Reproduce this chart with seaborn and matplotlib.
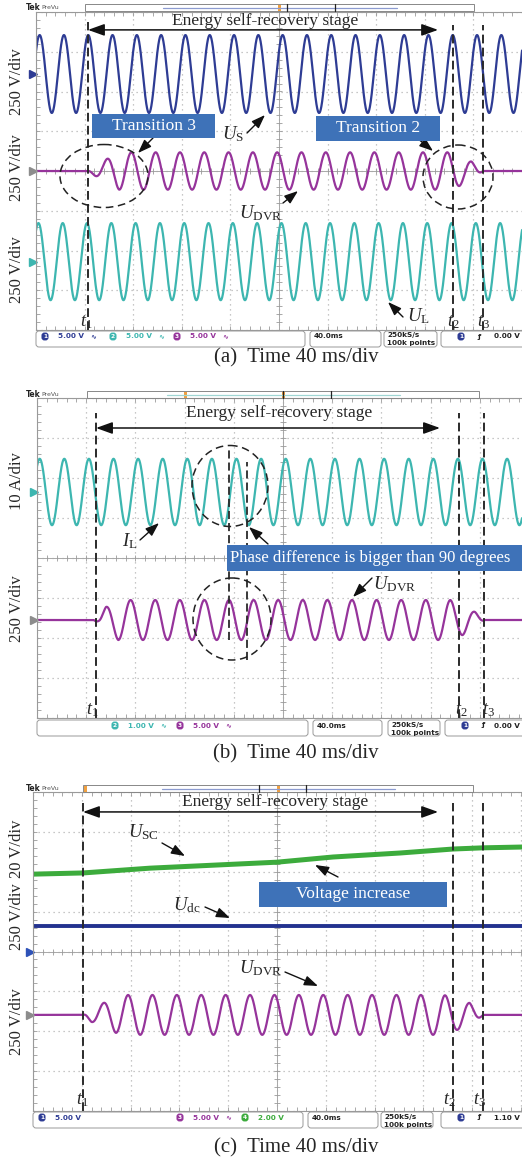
import numpy as np
import seaborn as sns
import matplotlib.pyplot as plt
import matplotlib.transforms as mtransforms
from matplotlib import patches
from matplotlib.lines import Line2D

sns.set_style("white")
plt.rcParams['font.family'] = ['Liberation Serif', 'DejaVu Sans']
plt.rcParams['mathtext.fontset'] = 'custom'
plt.rcParams['mathtext.rm'] = 'Liberation Serif'
plt.rcParams['mathtext.it'] = 'Liberation Serif:italic'

# ---- values: time in ms, levels in divisions ----
PERIOD = 20.0  # 50 Hz

# (a) U_S, U_DVR, U_L   -> [amplitude, offset, time of a peak]
TMARK_A = [42.8, 343.2, 367.9]
US_A = [0.98, 2.44, 3.0]
UL_A = [0.97, -2.28, 2.0]
UDVR_A = [0.47, 0.0, -1.5]
UDVR_A_KT = [0, 42.8, 48.5, 58.5, 68.5, 340, 348.5, 358.5, 368, 401]
UDVR_A_KG = [0, 0, 0.25, 0.65, 1, 1, 0.8, 0.5, 0, 0]

# (b) I_L, U_DVR
TMARK_B = [48.0, 343.1, 363.4]
PHASE_MARK_B = [156.1, 170.7]
IL_B = [0.83, 1.65, 2.2]
UDVR_B = [0.5, -1.55, -3.9]
UDVR_B_KT = [0, 46, 50, 56.1, 66.1, 336, 346.1, 356.1, 364, 401]
UDVR_B_KG = [0, 0, 0.15, 0.65, 1, 1, 0.75, 0.4, 0, 0]

# (c) U_SC, U_dc, U_DVR
TMARK_C = [41.0, 344.3, 368.9]
USC_T = [0, 41, 95.9, 200, 246, 300.8, 344.3, 368.9, 401]
USC_V = [1.94, 1.97, 2.09, 2.24, 2.37, 2.47, 2.57, 2.60, 2.62]
UDC_T = [0, 401]
UDC_V = [0.64, 0.64]
UDVR_C = [0.5, -1.59, -2.1]
UDVR_C_KT = [0, 41, 47.9, 57.9, 67.9, 77.9, 337, 347.9, 357.9, 369, 401]
UDVR_C_KG = [0, 0, 0.35, 0.6, 0.9, 1, 1, 0.75, 0.6, 0, 0]

NAVY = '#2E3C94'
TEAL = '#3DB6B0'
PURPLE = '#96349B'
GREEN = '#3CAB3C'
DCBLUE = '#23328F'
BOXBLUE = '#3E72B8'
GRIDC = '#9a9a9a'

W, H = 522, 1163
fig = plt.figure(figsize=(W / 100, H / 100), dpi=100)
pix = mtransforms.Affine2D().scale(1 / W, -1 / H).translate(0, 1) + fig.transFigure

t = np.linspace(0, 401, 6000)


def wave(p, kt=None, kg=None):
    amp, off, ph = p
    g = np.ones_like(t) if kt is None else np.interp(t, kt, kg)
    return off + amp * g * np.cos(2 * np.pi * (t - ph) / PERIOD)


def scope_axes(l, top, r, b, xmax):
    ax = fig.add_axes([l / W, 1 - b / H, (r - l) / W, (b - top) / H])
    ax.set_xlim(0, xmax)
    ax.set_ylim(-4, 4)
    ax.set_xticks(np.arange(0, xmax, 40))
    ax.set_yticks(np.arange(-4, 5, 1))
    ax.set_xticks(np.arange(0, xmax, 8), minor=True)
    ax.set_yticks(np.arange(-4, 4.01, 0.2), minor=True)
    ax.tick_params(which='both', direction='in', length=3, width=0.6, colors=GRIDC,
                   top=True, bottom=True, left=True, right=False,
                   labelbottom=False, labelleft=False)
    ax.grid(True, which='major', ls=(0, (1, 3)), lw=0.9, color='#b5b5b5')
    for s in ['left', 'top', 'bottom']:
        ax.spines[s].set_color(GRIDC)
        ax.spines[s].set_linewidth(0.8)
    ax.spines['right'].set_visible(False)
    ax.axhline(0, color='#a8a8a8', lw=0.7)
    ax.axvline(200, color='#a8a8a8', lw=0.7)
    xt = np.arange(0, xmax, 8)
    ax.plot(xt, np.zeros_like(xt), ls='none', marker='|', ms=4, mew=0.6, color=GRIDC)
    yt = np.arange(-4, 4.01, 0.2)
    ax.plot(np.full_like(yt, 200), yt, ls='none', marker='_', ms=4, mew=0.6, color=GRIDC)
    return ax


def trace(ax, x, y, color, lw=1.6):
    sns.lineplot(x=x, y=y, ax=ax, color=color, lw=lw, estimator=None, sort=False)


def ch_marker(ax, y, color):
    ax.plot([-2.6], [y], marker='>', ms=5.5, color=color, clip_on=False)


def tmarks(ax, xs, tops):
    ax.vlines(xs, -4, tops, colors='#2a2a2a', linestyles=(0, (4.5, 2.2)), lw=1.4)


def energy(ax, x0, x1, y, tx, ty):
    ax.annotate('', xy=(x1, y), xytext=(x0, y),
                arrowprops=dict(arrowstyle='<|-|>,head_length=0.5,head_width=0.18',
                                color='#111', lw=1.1, mutation_scale=20,
                                shrinkA=0, shrinkB=0))
    txt(tx, ty, 'Energy self-recovery stage', fs=12.5)


def txt(x, y, s, fs=13.5, **kw):
    kw.setdefault('ha', 'center')
    kw.setdefault('va', 'center')
    fig.text(x, y, s, transform=pix, fontsize=fs, **kw)


def arrow(ax, x0, y0, x1, y1):
    ax.annotate('', xy=(x1, y1), xytext=(x0, y0), xycoords=pix, textcoords=pix,
                annotation_clip=False,
                arrowprops=dict(arrowstyle='-|>,head_length=0.55,head_width=0.2',
                                color='#111', lw=1.0, mutation_scale=15,
                                shrinkA=0, shrinkB=0))


def ellipse(cx, cy, w, h):
    fig.add_artist(patches.Ellipse((cx, cy), w, h, transform=pix, fill=False,
                                   ec='#222', lw=1.1, ls=(0, (5, 3))))


def bluebox(x, y, w, h, s, tx, ha='center', fs=12.5):
    fig.add_artist(patches.Rectangle((x, y), w, h, transform=pix, fc=BOXBLUE, ec='none'))
    txt(tx, y + h / 2, s, fs=fs, color='white', ha=ha)


def tek_bar(y, rx0, rx1, lx0, lx1, lcol, ticks, oranges):
    fig.text(26, y + 3.5, 'Tek', transform=pix, fontsize=5.5, fontweight='bold',
             family='DejaVu Sans', va='center', color='#222')
    fig.text(41, y + 3.5, 'PreVu', transform=pix, fontsize=4.5,
             family='DejaVu Sans', va='center', color='#555')
    fig.add_artist(patches.Rectangle((rx0, y), rx1 - rx0, 7, transform=pix,
                                     fill=False, ec='#888', lw=0.7))
    fig.add_artist(Line2D([lx0, lx1], [y + 3.5, y + 3.5], transform=pix, color=lcol, lw=0.9))
    for x in ticks:
        fig.add_artist(Line2D([x, x], [y, y + 7], transform=pix, color='#222', lw=0.9))
    for x in oranges:
        fig.add_artist(patches.Rectangle((x - 1.5, y + 1), 3, 6, transform=pix,
                                         fc='#F0A040', ec='none'))


def oval(x, y, n, color):
    fig.text(x, y, n, transform=pix, fontsize=4.2, color='white', ha='center', va='center',
             family='DejaVu Sans', fontweight='bold',
             bbox=dict(boxstyle='round,pad=0.25,rounding_size=0.5', fc=color, ec='none'))


def status(y, b1, b2, b3, b4, items, trig):
    h = 16
    for x0, x1 in [b1, b2, b3, b4]:
        fig.add_artist(patches.FancyBboxPatch((x0, y), x1 - x0, h, transform=pix,
                                              boxstyle='round,pad=0,rounding_size=3',
                                              fc='white', ec='#999', lw=0.7))
    ty = y + 5.5
    kw = dict(transform=pix, fontsize=5.2, family='DejaVu Sans', fontweight='bold', va='center')
    for ox, n, col, lab, wav in items:
        oval(ox, ty, n, col)
        fig.text(ox + 13, ty, lab, color=col, **kw)
        if wav:
            fig.text(ox + 45, ty, '∿', color=col, **dict(kw, fontsize=5))
    fig.text(b2[0] + 4, ty, '40.0ms', color='#222', **kw)
    fig.text(b3[0] + 3, ty - 1, '250kS/s', color='#222', **kw)
    fig.text(b3[0] + 3, ty + 7, '100k points', color='#222', **kw)
    oval(b4[0] + 20, ty, '1', NAVY)
    fig.text(b4[0] + 36, ty, 'ƒ', color='#222', **kw)
    fig.text(520, ty, trig, color='#222', ha='right',
             **{k: v for k, v in kw.items()})


# ================= panel (a) =================
axa = scope_axes(36, 12, 522, 330, 400)
trace(axa, t, wave(US_A), NAVY)
trace(axa, t, wave(UDVR_A, UDVR_A_KT, UDVR_A_KG), PURPLE)
trace(axa, t, wave(UL_A), TEAL)
ch_marker(axa, US_A[1], NAVY)
ch_marker(axa, UDVR_A[1], '#8c8c8c')
ch_marker(axa, UL_A[1], TEAL)
tmarks(axa, TMARK_A, [3.75, 3.68, 3.68])
energy(axa, TMARK_A[0], 330.9, 3.55, 265, 21)
bluebox(92, 114, 123, 24, 'Transition 3', 153.5)
bluebox(316, 116, 124, 25, 'Transition 2', 378)
ellipse(104, 176, 88, 63)
ellipse(458, 177, 70, 64)
arrow(axa, 153, 138, 138, 153)
arrow(axa, 417, 138, 433, 151)
arrow(axa, 247, 133, 265, 115)
arrow(axa, 283, 203, 298, 191)
arrow(axa, 403, 317, 388, 302)
txt(233, 134, r'$U_{\mathrm{S}}$')
txt(261, 213, r'$U_{\mathrm{DVR}}$')
txt(418, 316, r'$U_{\mathrm{L}}$')
for x, s in [(86, r'$t_1$'), (453, r'$t_2$'), (483, r'$t_3$')]:
    txt(x, 322, s, fs=13)
for y in [82, 168, 270]:
    txt(17, y, '250 V/div', fs=12, rotation=90)
tek_bar(4, 85, 474, 163, 397, '#8C9BD0', [287, 335], [279])
status(331, (36, 305), (310, 381), (384, 437), (441, 540),
       [(45, '1', NAVY, '5.00 V', True), (113, '2', TEAL, '5.00 V', True),
        (177, '3', PURPLE, '5.00 V', True)], '0.00 V')
txt(296, 358, '(a)  Time 40 ms/div', fs=15)

# ================= panel (b) =================
xb = (522 - 37) / 1.23
axb = scope_axes(37, 398, 522, 718, xb)
trace(axb, t, wave(IL_B), TEAL)
trace(axb, t, wave(UDVR_B, UDVR_B_KT, UDVR_B_KG), PURPLE)
ch_marker(axb, IL_B[1], TEAL)
ch_marker(axb, UDVR_B[1], '#8c8c8c')
tmarks(axb, TMARK_B, [3.63, 3.63, 3.63])
axb.vlines(PHASE_MARK_B, [-2.05, -2.55], [2.78, 2.4], colors='#2a2a2a',
           linestyles=(0, (4.5, 2.2)), lw=1.3)
energy(axb, TMARK_B[0], 327.6, 3.25, 279, 413)
ellipse(230, 486, 76, 81)
ellipse(232, 619, 78, 82)
bluebox(227, 545, 300, 26, 'Phase difference is bigger than 90 degrees', 230,
        ha='left', fs=12)
arrow(axb, 268, 544, 249, 527)
arrow(axb, 140, 540, 159, 523)
arrow(axb, 372, 578, 353, 597)
txt(130, 541, r'$I_{\mathrm{L}}$')
txt(395, 584, r'$U_{\mathrm{DVR}}$')
for x, s in [(92, r'$t_1$'), (461, r'$t_2$'), (488, r'$t_3$')]:
    txt(x, 710, s, fs=13)
txt(17, 481, '10 A/div', fs=12, rotation=90)
txt(17, 609, '250 V/div', fs=12, rotation=90)
tek_bar(391, 87, 479, 167, 400, '#9FD6D3', [283, 331], [185, 283])
status(720, (37, 308), (313, 382), (388, 440), (445, 540),
       [(115, '2', TEAL, '1.00 V', True), (180, '3', PURPLE, '5.00 V', True)], '0.00 V')
txt(296, 754, '(b)  Time 40 ms/div', fs=15)

# ================= panel (c) =================
xc = (522 - 33) / 1.22
axc = scope_axes(33, 792, 522, 1111, xc)
trace(axc, USC_T, USC_V, GREEN, lw=3.6)
trace(axc, UDC_T, UDC_V, DCBLUE, lw=2.8)
trace(axc, t, wave(UDVR_C, UDVR_C_KT, UDVR_C_KG), PURPLE)
ch_marker(axc, 0, '#2E52B8')
ch_marker(axc, UDVR_C[1], '#8c8c8c')
tmarks(axc, TMARK_C, [3.72, 3.72, 3.72])
energy(axc, TMARK_C[0], 332, 3.5, 275, 802)
bluebox(259, 882, 188, 25, 'Voltage increase', 353)
arrow(axc, 162, 843, 185, 856)
arrow(axc, 338, 877, 315, 865)
arrow(axc, 205, 907, 230, 918)
arrow(axc, 285, 972, 318, 986)
txt(143, 832, r'$U_{\mathrm{SC}}$')
txt(187, 905, r'$U_{\mathrm{dc}}$')
txt(261, 968, r'$U_{\mathrm{DVR}}$')
for x, s in [(82, r'$t_1$'), (449, r'$t_2$'), (479, r'$t_3$')]:
    txt(x, 1100, s, fs=13)
txt(17, 849, '20 V/div', fs=12, rotation=90)
txt(17, 917, '250 V/div', fs=12, rotation=90)
txt(17, 1022, '250 V/div', fs=12, rotation=90)
tek_bar(785, 83, 473, 162, 395, '#8C9BD0', [259, 306], [85, 278])
status(1112, (33, 303), (308, 378), (381, 433), (441, 540),
       [(42, '1', NAVY, '5.00 V', False), (180, '3', PURPLE, '5.00 V', True),
        (245, '4', GREEN, '2.00 V', False)], '1.10 V')
txt(296, 1148, '(c)  Time 40 ms/div', fs=15)

fig.savefig('out.png', dpi=100)
